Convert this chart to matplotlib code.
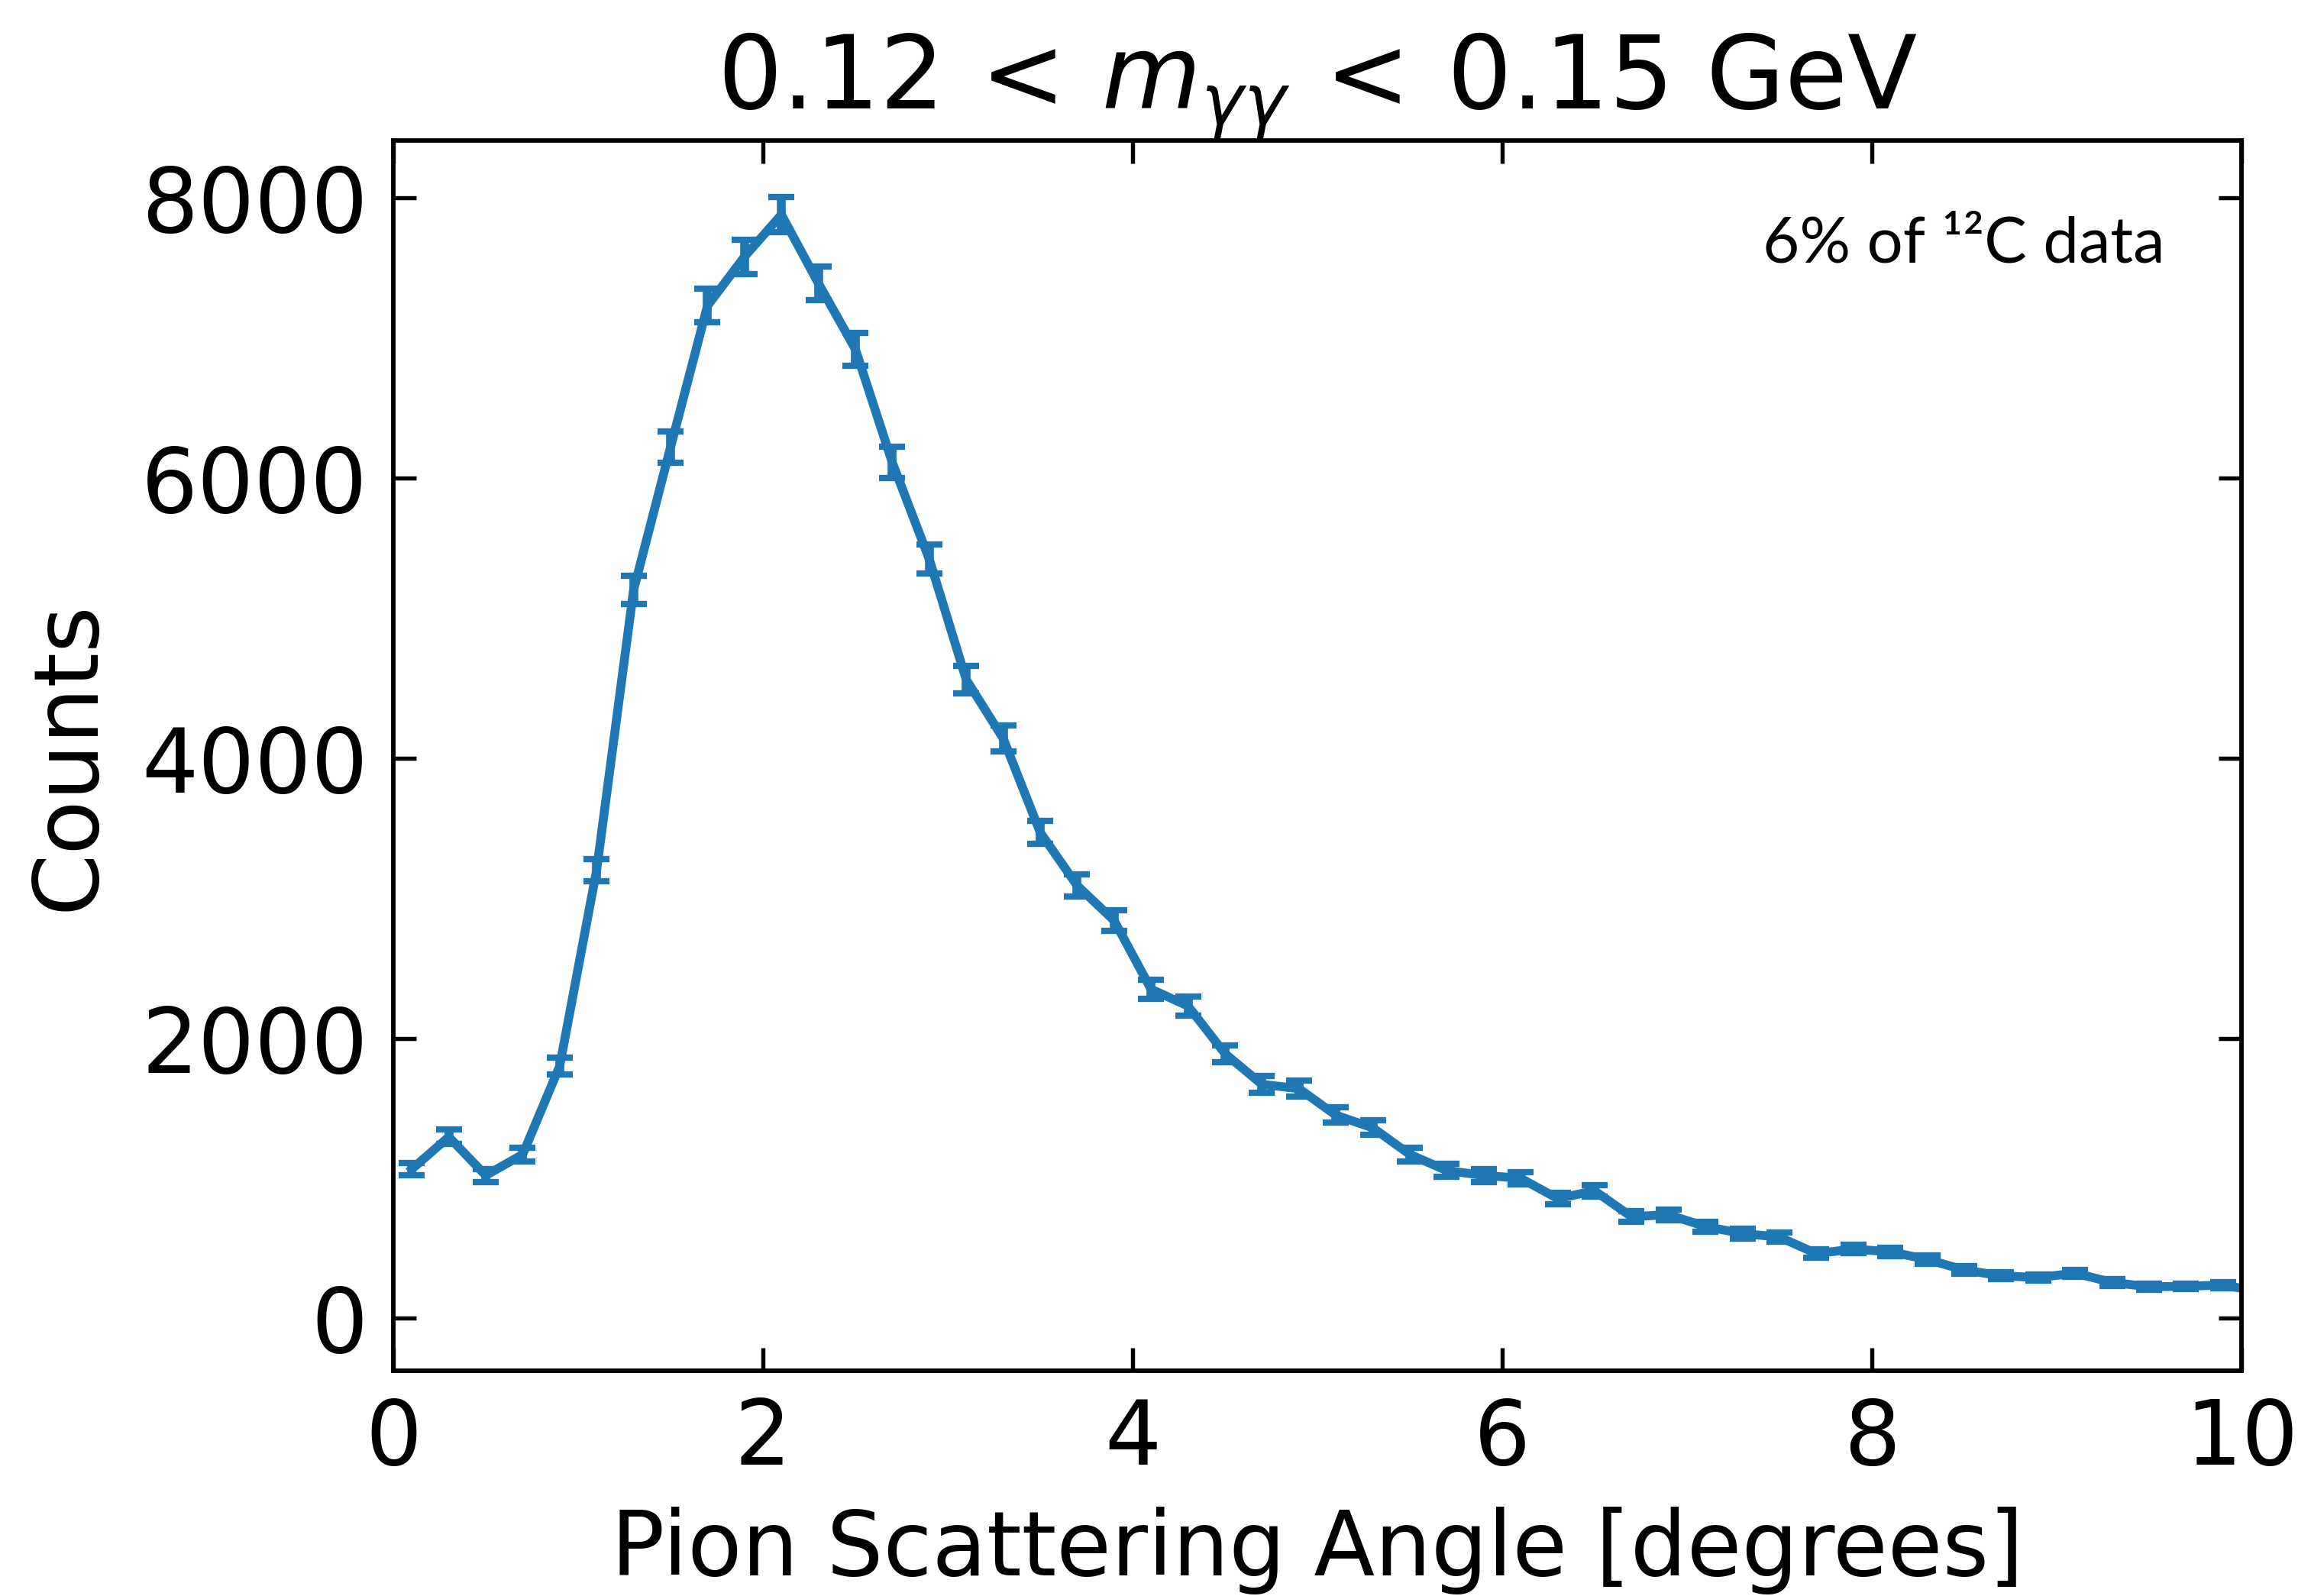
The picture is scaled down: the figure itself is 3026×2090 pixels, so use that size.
import numpy as np
import matplotlib.pyplot as plt

# bin centres (0.2 degree bins), last one sits just past the axis edge
angle = [0.1, 0.3, 0.5, 0.7, 0.9, 1.1, 1.3, 1.5, 1.7, 1.9,
         2.1, 2.3, 2.5, 2.7, 2.9, 3.1, 3.3, 3.5, 3.7, 3.9,
         4.1, 4.3, 4.5, 4.7, 4.9, 5.1, 5.3, 5.5, 5.7, 5.9,
         6.1, 6.3, 6.5, 6.7, 6.9, 7.1, 7.3, 7.5, 7.7, 7.9,
         8.1, 8.3, 8.5, 8.7, 8.9, 9.1, 9.3, 9.5, 9.7, 9.9, 10.1]
counts = [1065, 1295, 1020, 1170, 1800, 3200, 5200, 6220, 7230, 7580,
          7880, 7390, 6920, 6110, 5420, 4560, 4140, 3470, 3090, 2840,
          2350, 2230, 1890, 1670, 1640, 1450, 1360, 1170, 1055, 1020,
          1000, 855, 910, 725, 740, 655, 605, 580, 462, 494,
          475, 420, 345, 303, 291, 322, 256, 225, 228, 238, 190]
errors = [46, 51, 45, 48, 60, 80, 102, 112, 120, 123,
          126, 122, 118, 111, 104, 96, 91, 83, 79, 75,
          69, 67, 61, 58, 57, 54, 52, 48, 46, 45,
          45, 41, 43, 38, 38, 36, 35, 34, 30, 31,
          31, 29, 26, 25, 24, 25, 23, 21, 21, 22, 19]

x_ticks = [0, 2, 4, 6, 8, 10]
y_ticks = [0, 2000, 4000, 6000, 8000]

plt.rcParams['font.family'] = 'DejaVu Sans'
plt.rcParams['font.size'] = 28

fig = plt.figure(figsize=(3026/300, 2090/300), dpi=300)
ax = fig.add_axes([0.1702, 0.1411, 0.7997, 0.7709])

ax.errorbar(angle, counts, yerr=errors, color='#1f77b4', lw=2.8,
            elinewidth=2.8, capsize=4, capthick=2)

ax.set_xlim(0, 10)
ax.set_ylim(-375, 8410)
ax.set_xticks(x_ticks)
ax.set_yticks(y_ticks)
ax.tick_params(direction='in', top=True, right=True, length=7.2, width=1.3,
               pad=8, labelsize=28)
for s in ax.spines.values():
    s.set_linewidth(1.4)

ax.set_xlabel('Pion Scattering Angle [degrees]', fontsize=28, labelpad=7)
ax.set_ylabel('Counts', fontsize=28, labelpad=9)
ax.set_title(r'0.12$\,<\,m_{\gamma\gamma}\,<\,$0.15 GeV', fontsize=32, pad=10)

ax.text(0.9587, 0.901, '6% of \u00b9\u00b2C data', transform=ax.transAxes,
        ha='right', va='baseline', fontsize=20, family='Lato')

fig.savefig('out.png', dpi=300)
